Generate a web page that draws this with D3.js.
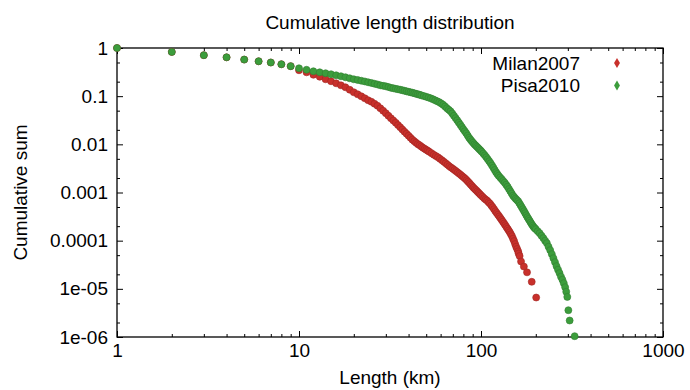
<!DOCTYPE html>
<html>
<head>
<meta charset="utf-8">
<script src="https://cdn.jsdelivr.net/npm/d3@7"></script>
<style>
  html, body { margin: 0; padding: 0; background: #fff; }
  svg { display: block; }
</style>
</head>
<body>
<svg id="chart"></svg>
<script>
// Values
const seriesNames = ["Milan2007", "Pisa2010"];

const milanLength = [1, 2, 3, 4, 5, 6, 7, 8, 9, 10, 11, 12, 13, 14, 15, 16, 17, 18, 19, 20,
  21, 22, 23, 24, 25, 26, 27, 28, 29, 30, 31, 32, 33, 34, 35, 36, 37, 38, 39, 40,
  41, 42, 43, 44, 45, 46, 47, 48, 49, 50, 51, 52, 53.5, 55, 56.5, 58, 59.5, 61, 62.5, 64,
  65.5, 67, 68.5, 70, 71.5, 73, 74.5, 76, 77.5, 79, 80.5, 82, 83.5, 85, 86.5, 88, 89.5, 91, 92.5, 94,
  95.5, 97, 98.5, 100, 102, 104, 106, 108, 110, 112, 114, 116, 118, 120, 122, 124, 126, 128, 130, 132,
  134, 136, 138, 140, 142, 144, 146, 148, 150, 152, 154, 156, 158, 160, 161, 163, 166, 172, 179, 190, 201];
const milanCum = [1, 0.83, 0.71, 0.64, 0.575, 0.53, 0.5, 0.46, 0.42, 0.345, 0.313, 0.278, 0.253, 0.224, 0.204, 0.185, 0.168, 0.153, 0.136, 0.1205,
  0.1095, 0.0995, 0.0904, 0.0822, 0.0765, 0.0696, 0.0632, 0.0561, 0.0498, 0.0442, 0.0392, 0.0348, 0.0312, 0.0281, 0.0251, 0.0226, 0.0203, 0.0183, 0.0166, 0.0151,
  0.0137, 0.0125, 0.0116, 0.0108, 0.0101, 0.0096, 0.0090, 0.0085, 0.0081, 0.0077, 0.00737, 0.0070, 0.00654, 0.0061, 0.00572, 0.0054, 0.00502, 0.00468, 0.00436, 0.00405,
  0.00377, 0.00351, 0.0033, 0.00312, 0.00293, 0.00277, 0.0026, 0.00246, 0.00231, 0.00218, 0.00205, 0.00193, 0.0018, 0.00168, 0.00156, 0.00145, 0.00135, 0.00126, 0.00118, 0.00112,
  0.00105, 0.00099, 0.00093, 0.00088, 0.000818, 0.00076, 0.000716, 0.00068, 0.000629, 0.00059, 0.000537, 0.000495, 0.00045, 0.000409, 0.000376, 0.000346, 0.000318, 0.000293, 0.000269, 0.000248,
  0.000227, 0.00021, 0.000192, 0.000177, 0.000163, 0.00015, 0.000136, 0.000124, 0.00011, 9.8e-5, 8.5e-5, 7.5e-5, 6.7e-5, 6.0e-5, 5.4e-5, 4.8e-5, 3.7e-5, 2.9e-5, 2.2e-5, 1.4e-5, 6.6e-6];

const pisaLength = [1, 2, 3, 4, 5, 6, 7, 8, 9, 10, 11, 12, 13, 14, 15, 16, 17, 18, 19, 20,
  21, 22, 23, 24, 25, 26, 27, 28, 29, 30, 31, 32, 33, 34, 35, 36, 37, 38, 39, 40,
  41, 42, 43, 44, 45, 46, 47, 48.5, 50, 51.5, 53, 54.5, 56, 57.5, 59, 60.5, 62, 63.5, 65, 66.5,
  68, 69.5, 71, 72.5, 74, 75.5, 77, 78.5, 80, 81.5, 83, 84.5, 86, 87.5, 89, 90.5, 92, 93.5, 95, 96.5,
  98, 99.5, 101, 103, 105, 107, 109, 111, 113, 115, 117, 119, 121, 123, 125, 127.5, 130, 132.5, 135, 137.5,
  140, 142.5, 145, 147.5, 150, 152.5, 155, 157.5, 160, 162.5, 165, 167.5, 170, 172.5, 175, 177.5, 180, 182.5, 185, 187.5,
  190, 192.5, 195, 197.5, 200, 205, 210, 215, 220, 225, 230, 235, 240, 245, 250, 255, 260, 265, 270, 275,
  280, 285, 290, 294, 298, 302, 307, 327];
const pisaCum = [1, 0.83, 0.71, 0.64, 0.575, 0.53, 0.5, 0.46, 0.42, 0.379, 0.353, 0.329, 0.313, 0.299, 0.285, 0.271, 0.259, 0.247, 0.235, 0.224,
  0.217, 0.209, 0.202, 0.194, 0.188, 0.181, 0.175, 0.168, 0.164, 0.160, 0.155, 0.149, 0.146, 0.142, 0.139, 0.136, 0.133, 0.129, 0.126, 0.123,
  0.1205, 0.118, 0.115, 0.112, 0.1095, 0.107, 0.104, 0.1005, 0.097, 0.0935, 0.090, 0.0862, 0.082, 0.0784, 0.075, 0.0706, 0.066, 0.0611, 0.056, 0.0522,
  0.0486, 0.0438, 0.0392, 0.0351, 0.0316, 0.0283, 0.0255, 0.0229, 0.0206, 0.0187, 0.017, 0.0152, 0.0137, 0.0126, 0.0116, 0.0108, 0.0100, 0.00944, 0.0089, 0.00838,
  0.0079, 0.00747, 0.0070, 0.00644, 0.0059, 0.0054, 0.0049, 0.00446, 0.00405, 0.00363, 0.00327, 0.00293, 0.00264, 0.00242, 0.00223, 0.00205, 0.00189, 0.00173, 0.0016, 0.00145,
  0.00132, 0.00118, 0.00106, 0.000953, 0.00086, 0.000799, 0.000744, 0.000699, 0.00066, 0.0006, 0.000545, 0.000495, 0.00045, 0.000409, 0.000372, 0.000338, 0.000307, 0.000282, 0.00026, 0.000238,
  0.00022, 0.000205, 0.000191, 0.000182, 0.000173, 0.000157, 0.000143, 0.000127, 0.000113, 0.0001, 8.9e-5, 7.5e-5, 6.35e-5, 5.25e-5, 4.33e-5, 3.58e-5, 2.96e-5, 2.5e-5, 2.12e-5, 1.79e-5,
  1.55e-5, 1.31e-5, 1.08e-5, 8.7e-6, 6.8e-6, 3.6e-6, 2.2e-6, 1.04e-6];

const xTicks = [1, 10, 100, 1000];
const xTickLabels = ["1", "10", "100", "1000"];
const yTicks = [1, 0.1, 0.01, 0.001, 0.0001, 1e-5, 1e-6];
const yTickLabels = ["1", "0.1", "0.01", "0.001", "0.0001", "1e-05", "1e-06"];

const colors = ["#c8302b", "#3c9d3c"];

const W = 690, H = 390;
const margin = { top: 48, right: 27, bottom: 53, left: 117 };
const width = W - margin.left - margin.right;
const height = H - margin.top - margin.bottom;
const font = "'Liberation Sans', Arial, Helvetica, sans-serif";

const svg = d3.select("#chart")
  .attr("width", W)
  .attr("height", H)
  .style("font-family", font);

const g = svg.append("g")
  .attr("transform", `translate(${margin.left},${margin.top})`);

const x = d3.scaleLog().domain([1, 1000]).range([0, width]);
const y = d3.scaleLog().domain([1e-6, 1]).range([height, 0]);

// minor tick positions
const xMinor = [];
[1, 10, 100].forEach(d => { for (let k = 2; k <= 9; k++) xMinor.push(d * k); });
const yMinor = [];
[1e-6, 1e-5, 1e-4, 1e-3, 1e-2, 1e-1].forEach(d => { yMinor.push(d * 2, d * 5); });

function styleAxis(sel) {
  sel.select(".domain").remove();
  sel.selectAll("line").attr("stroke", "#000").attr("stroke-width", 1);
  sel.selectAll("text")
    .attr("fill", "#000")
    .style("font-size", "19px")
    .style("font-family", font);
}

// Bottom axis with labels
g.append("g")
  .attr("transform", `translate(0,${height})`)
  .call(d3.axisBottom(x).tickValues(xTicks).tickFormat((d, i) => xTickLabels[i])
    .tickSizeInner(-6).tickSizeOuter(0).tickPadding(7))
  .call(styleAxis);
g.append("g")
  .attr("transform", `translate(0,${height})`)
  .call(d3.axisBottom(x).tickValues(xMinor).tickFormat("").tickSizeInner(-3).tickSizeOuter(0))
  .call(styleAxis);

// Top mirror ticks
g.append("g")
  .call(d3.axisTop(x).tickValues(xTicks).tickFormat("").tickSizeInner(-6).tickSizeOuter(0))
  .call(styleAxis);
g.append("g")
  .call(d3.axisTop(x).tickValues(xMinor).tickFormat("").tickSizeInner(-3).tickSizeOuter(0))
  .call(styleAxis);

// Left axis with labels
g.append("g")
  .call(d3.axisLeft(y).tickValues(yTicks).tickFormat((d, i) => yTickLabels[i])
    .tickSizeInner(-6).tickSizeOuter(0).tickPadding(9))
  .call(styleAxis);
g.append("g")
  .call(d3.axisLeft(y).tickValues(yMinor).tickFormat("").tickSizeInner(-3).tickSizeOuter(0))
  .call(styleAxis);

// Right mirror ticks
g.append("g")
  .attr("transform", `translate(${width},0)`)
  .call(d3.axisRight(y).tickValues(yTicks).tickFormat("").tickSizeInner(-6).tickSizeOuter(0))
  .call(styleAxis);
g.append("g")
  .attr("transform", `translate(${width},0)`)
  .call(d3.axisRight(y).tickValues(yMinor).tickFormat("").tickSizeInner(-3).tickSizeOuter(0))
  .call(styleAxis);

// Frame
g.append("rect")
  .attr("width", width)
  .attr("height", height)
  .attr("fill", "none")
  .attr("stroke", "#000")
  .attr("stroke-width", 1.3);

// Points
const series = [
  d3.zip(milanLength, milanCum),
  d3.zip(pisaLength, pisaCum)
];

series.forEach((pts, i) => {
  g.append("g")
    .selectAll("circle")
    .data(pts)
    .join("circle")
    .attr("cx", d => x(d[0]))
    .attr("cy", d => y(d[1]))
    .attr("r", 3.5)
    .attr("fill", colors[i])
    .attr("stroke", d3.color(colors[i]).darker(0.6))
    .attr("stroke-width", 0.6);
});

// Legend
const legend = g.append("g");
seriesNames.forEach((name, i) => {
  const ly = 15 + i * 22.5;
  legend.append("text")
    .attr("x", 463)
    .attr("y", ly)
    .attr("dy", "0.35em")
    .attr("text-anchor", "end")
    .style("font-size", "19px")
    .text(name);
  legend.append("path")
    .attr("transform", `translate(500,${ly})`)
    .attr("d", d3.symbol(d3.symbolDiamond, 30)())
    .attr("fill", colors[i]);
});

// Title and axis titles
svg.append("text")
  .attr("x", margin.left + width / 2)
  .attr("y", 29)
  .attr("text-anchor", "middle")
  .style("font-size", "19px")
  .text("Cumulative length distribution");

svg.append("text")
  .attr("x", margin.left + width / 2)
  .attr("y", 384)
  .attr("text-anchor", "middle")
  .style("font-size", "19px")
  .text("Length (km)");

svg.append("text")
  .attr("transform", `translate(27,${margin.top + height / 2}) rotate(-90)`)
  .attr("text-anchor", "middle")
  .style("font-size", "19px")
  .text("Cumulative sum");
</script>
</body>
</html>
